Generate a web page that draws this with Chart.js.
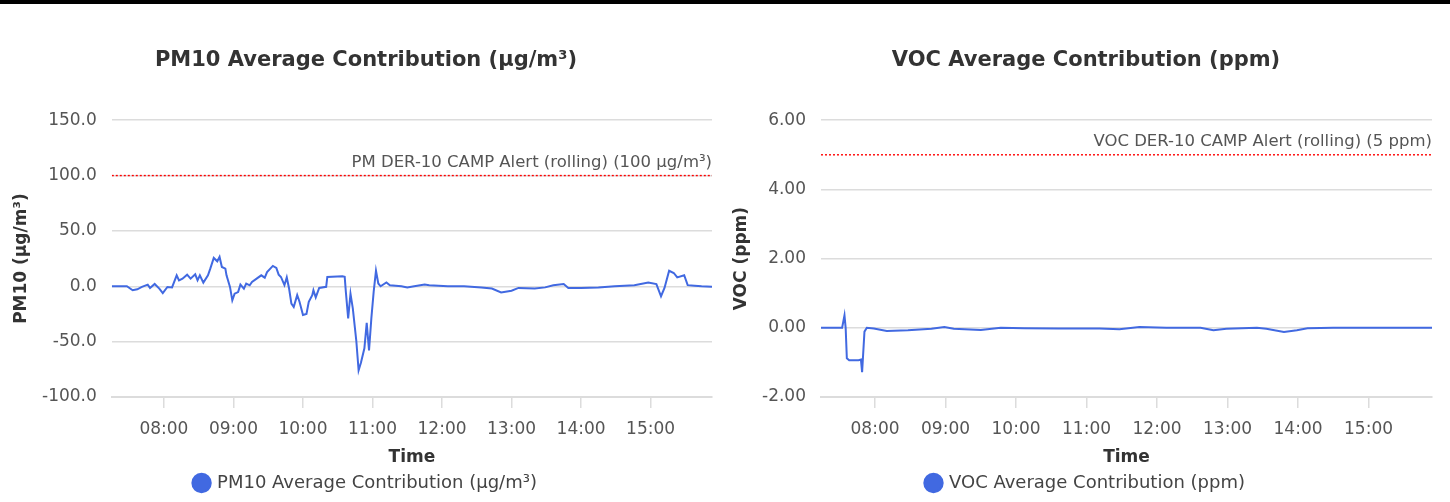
<!DOCTYPE html>
<html>
<head>
<meta charset="utf-8">
<script src="https://cdn.jsdelivr.net/npm/chart.js@4.4.1/dist/chart.umd.min.js"></script>
<style>
  html, body { margin: 0; padding: 0; background: #fff; }
  .page { position: relative; width: 1450px; height: 502px; box-sizing: border-box; border-top: 4px solid #000; }
  .cell { position: absolute; top: 0; width: 708px; height: 498px; }
</style>
</head>
<body>
<div class="page">
  <div class="cell" style="left: 12px"><canvas id="pmChart"></canvas></div>
  <div class="cell" style="left: 732px"><canvas id="vocChart"></canvas></div>
</div>
<script>
// PM10 readings (time of day, µg/m³)
const pmTimes = ['07:15','07:28','07:33','07:37','07:41','07:46','07:48','07:52','07:56','07:59',
  '08:03','08:07','08:11','08:13','08:16','08:20','08:23','08:27','08:29','08:31',
  '08:34','08:38','08:40','08:43','08:46','08:48','08:50','08:53','08:54','08:57',
  '08:59','09:01','09:04','09:06','09:09','09:11','09:14','09:16','09:20','09:24',
  '09:27','09:29','09:34','09:37','09:39','09:41','09:44','09:46','09:48','09:50',
  '09:52','09:55','09:57','10:00','10:03','10:05','10:08','10:09','10:11','10:14',
  '10:20','10:21','10:34','10:36','10:37','10:39','10:41','10:43','10:46','10:48',
  '10:50','10:53','10:55','10:57','10:59','11:01','11:03','11:05','11:07','11:12',
  '11:15','11:25','11:30','11:36','11:45','11:49','12:05','12:19','12:34','12:43',
  '12:51','13:00','13:06','13:20','13:29','13:36','13:45','13:49','14:00','14:15',
  '14:29','14:46','14:58','15:05','15:09','15:12','15:16','15:20','15:23','15:29',
  '15:32','15:38','15:44','15:53'];
const pmValues = [0.0, 0.0, -3.6, -2.7, -0.6, 1.5, -1.5, 2.1, -2.1, -6.1,
  -0.6, -1.0, 9.9, 5.4, 6.9, 10.5, 6.9, 10.8, 5.4, 9.9,
  3.3, 9.9, 15.9, 25.6, 22.6, 26.5, 17.4, 15.9, 9.9, -0.6,
  -12.7, -6.7, -5.2, 1.5, -2.1, 2.4, 0.9, 3.9, 6.9, 9.9,
  7.8, 12.9, 18.4, 16.6, 10.5, 8.4, 1.0, 8.0, -2.0, -15.7,
  -18.7, -8.0, -14.0, -26.0, -25.0, -14.0, -8.0, -3.6, -10.0, -1.5,
  -0.5, 8.4, 9.0, 8.5, -5.0, -29.0, -6.7, -20.0, -49.0, -76.0,
  -69.0, -56.0, -33.0, -58.0, -29.0, -5.0, 14.0, 2.5, 0.0, 3.5,
  1.0, 0.0, -1.0, 0.0, 1.5, 1.0, 0.0, 0.0, -1.0, -2.0,
  -5.5, -4.0, -1.5, -2.0, -1.0, 1.0, 2.0, -1.5, -1.5, -1.0,
  0.0, 1.0, 3.5, 2.0, -9.0, -1.5, 14.0, 12.0, 8.0, 10.0,
  1.0, 0.5, 0.0, -0.5];

// VOC readings (time of day, ppm)
const vocTimes = ['07:14','07:32','07:34','07:35','07:36','07:38','07:46','07:48','07:49','07:51',
  '07:53','07:59','08:10','08:28','08:48','08:59','09:07','09:30','09:47','10:07',
  '10:36','11:11','11:28','11:45','12:08','12:37','12:48','12:59','13:25','13:33',
  '13:48','13:59','14:08','14:30','15:54'];
const vocValues = [0.0, 0.0, 0.36, 0.0, -0.88, -0.94, -0.94, -0.92, -1.28, -0.11,
  0.0, -0.02, -0.09, -0.07, -0.03, 0.02, -0.03, -0.06, 0.0, -0.01,
  -0.02, -0.02, -0.04, 0.02, 0.0, 0.0, -0.07, -0.03, 0.0, -0.03,
  -0.12, -0.07, -0.01, 0.0, 0.0];

const hourTicks = ['08:00','09:00','10:00','11:00','12:00','13:00','14:00','15:00'];

const pmAlert = 100;
const vocAlert = 5;

const toMin = (s) => { const [h, m] = s.split(':').map(Number); return h * 60 + m; };
const fmtMin = (v) => String(Math.floor(v / 60)).padStart(2, '0') + ':' + String(v % 60).padStart(2, '0');

Chart.defaults.font.family = '"DejaVu Sans", sans-serif';
Chart.defaults.color = '#555';

// text above the dotted alert line, right aligned to the plot
const alertLabel = {
  id: 'alertLabel',
  afterDatasetsDraw(chart, args, opts) {
    const meta = chart.getDatasetMeta(1);
    const pt = meta.data[meta.data.length - 1];
    const ctx = chart.ctx;
    ctx.save();
    ctx.font = '16.5px "DejaVu Sans"';
    ctx.fillStyle = '#555';
    ctx.textAlign = 'right';
    ctx.textBaseline = 'alphabetic';
    ctx.fillText(opts.text, chart.chartArea.right, pt.y - 9);
    ctx.restore();
  }
};

function makeChart(id, cfg) {
  const xs = cfg.times.map(toMin);
  const xMin = xs[0];
  const xMax = xs[xs.length - 1];
  const line = xs.map((x, i) => ({ x: x, y: cfg.values[i] }));
  return new Chart(document.getElementById(id), {
    type: 'line',
    data: {
      datasets: [
        {
          label: cfg.label,
          data: line,
          borderColor: '#4169E1',
          backgroundColor: '#4169E1',
          borderWidth: 2,
          pointRadius: 0,
          tension: 0,
        },
        {
          label: 'alert',
          data: [{ x: xMin, y: cfg.alert }, { x: xMax, y: cfg.alert }],
          borderColor: '#ff0000',
          borderWidth: 1.4,
          borderDash: [2, 2],
          pointRadius: 0,
        },
      ],
    },
    options: {
      responsive: true,
      maintainAspectRatio: false,
      animation: false,
      layout: { padding: { left: 8, right: 8, top: 0, bottom: 0 } },
      plugins: {
        title: {
          display: true,
          text: cfg.title,
          color: '#333',
          font: { size: 21, weight: 'bold' },
          padding: { top: 44, bottom: 47 },
        },
        legend: {
          position: 'bottom',
          labels: {
            usePointStyle: true,
            pointStyle: 'circle',
            boxWidth: 13,
            boxHeight: 13,
            color: '#444',
            font: { size: 18 },
            filter: (item) => item.datasetIndex === 0,
          },
        },
        tooltip: { enabled: false },
        alertLabel: { text: cfg.alertText },
      },
      scales: {
        x: {
          type: 'linear',
          min: xMin,
          max: xMax,
          afterBuildTicks: (axis) => { axis.ticks = hourTicks.map((t) => ({ value: toMin(t) })); },
          ticks: {
            callback: (v) => fmtMin(v),
            font: { size: 17 },
            color: '#555',
            padding: 11,
            maxRotation: 0,
          },
          grid: { drawOnChartArea: false, drawTicks: true, tickLength: 11, color: '#dcdcdc', lineWidth: 1.5 },
          border: { display: true, color: '#dcdcdc', width: 2 },
          title: { display: true, text: 'Time', color: '#333', font: { size: 17, weight: 'bold', lineHeight: 0.8 }, padding: { top: 0, bottom: 0 } },
        },
        y: {
          min: cfg.yMin,
          max: cfg.yMax,
          ticks: {
            stepSize: cfg.step,
            callback: (v) => v.toFixed(cfg.decimals),
            font: { size: 17 },
            color: '#555',
            padding: 4,
          },
          grid: { drawTicks: true, tickLength: 11, tickColor: 'rgba(0,0,0,0)', color: '#dcdcdc', lineWidth: 1.5 },
          border: { display: false },
          title: { display: true, text: cfg.yTitle, color: '#333', font: { size: 17, weight: 'bold', lineHeight: 1 }, padding: { top: -7, bottom: 8 } },
        },
      },
    },
    plugins: [alertLabel],
  });
}

makeChart('pmChart', {
  times: pmTimes, values: pmValues, alert: pmAlert,
  label: 'PM10 Average Contribution (µg/m³)',
  title: 'PM10 Average Contribution (µg/m³)',
  alertText: 'PM DER-10 CAMP Alert (rolling) (100 µg/m³)',
  yTitle: 'PM10 (µg/m³)',
  yMin: -100, yMax: 150, step: 50, decimals: 1,
});

makeChart('vocChart', {
  times: vocTimes, values: vocValues, alert: vocAlert,
  label: 'VOC Average Contribution (ppm)',
  title: 'VOC Average Contribution (ppm)',
  alertText: 'VOC DER-10 CAMP Alert (rolling) (5 ppm)',
  yTitle: 'VOC (ppm)',
  yMin: -2, yMax: 6, step: 2, decimals: 2,
});
</script>
</body>
</html>
